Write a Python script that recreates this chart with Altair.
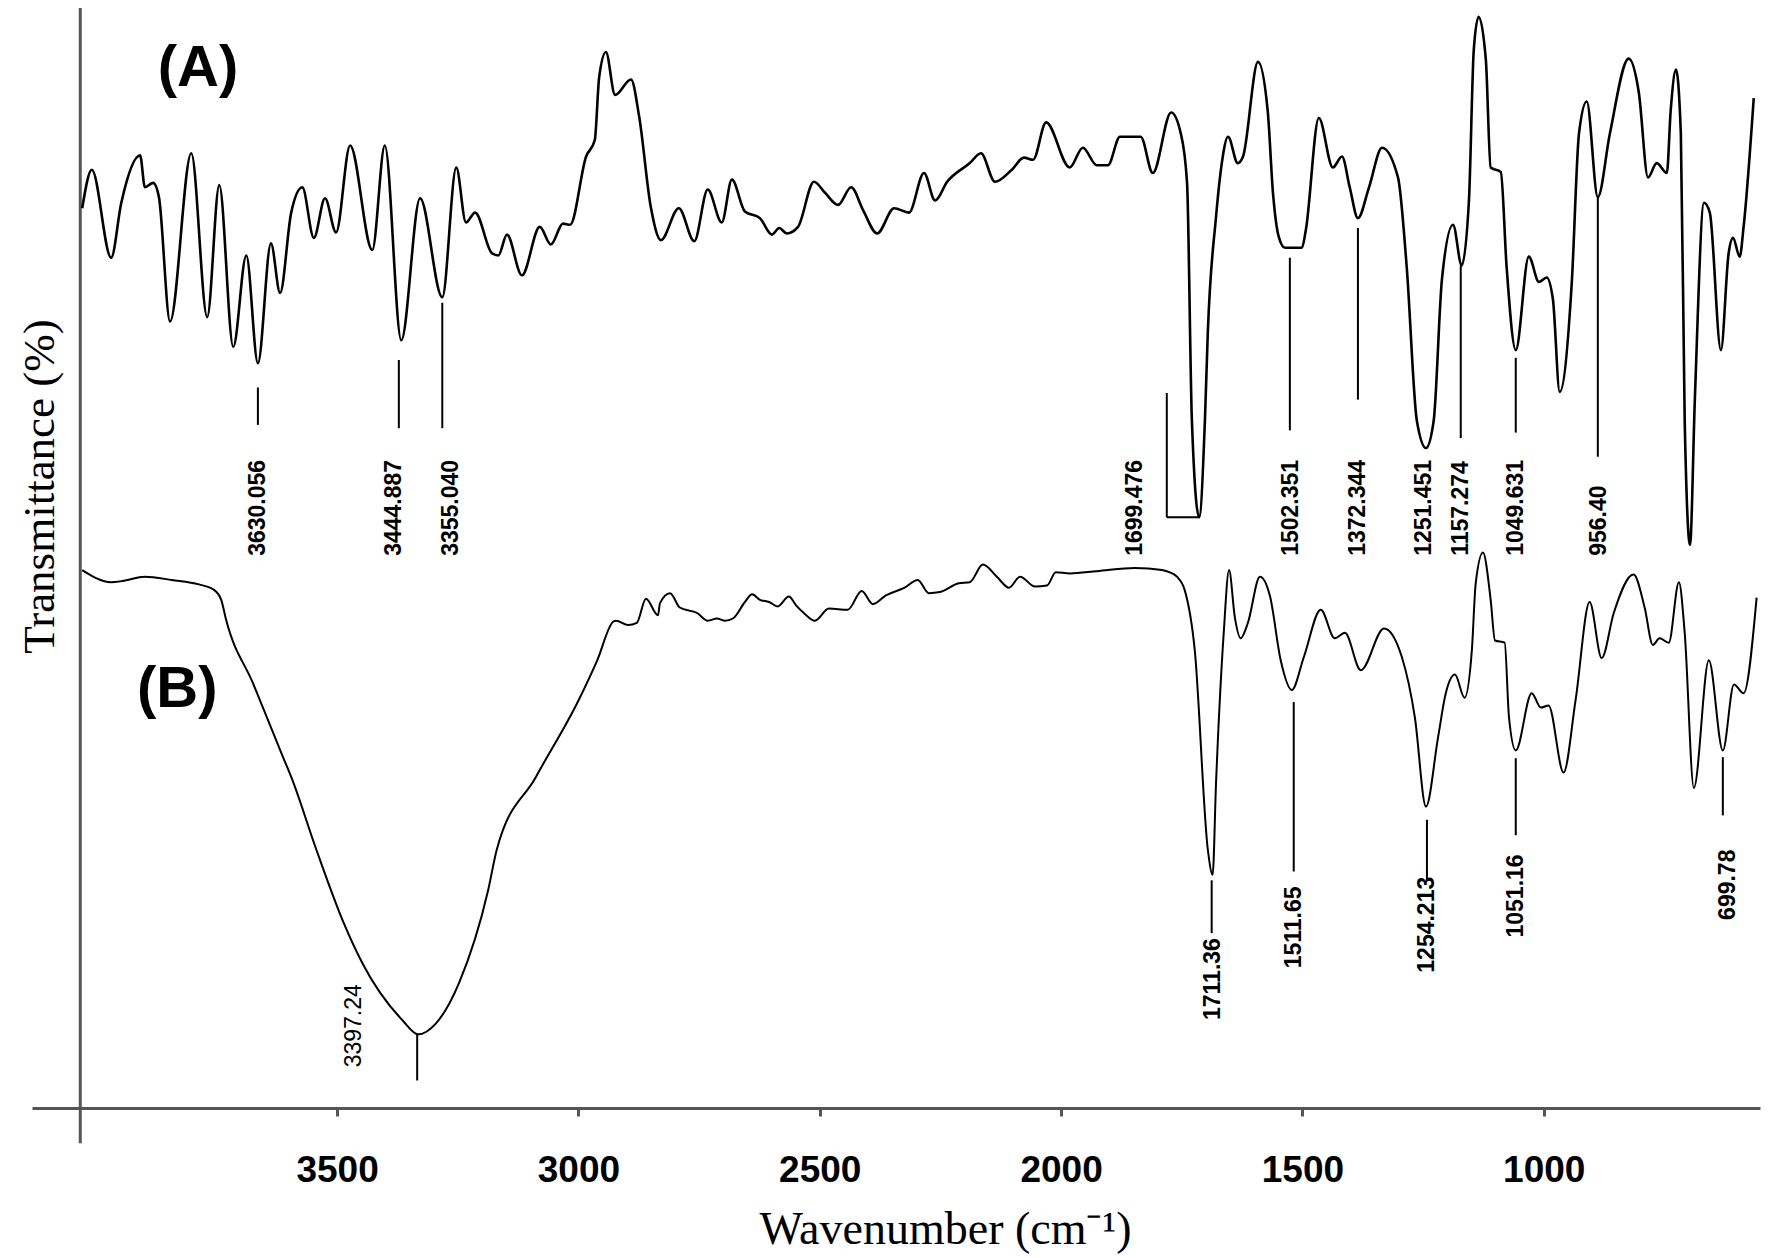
import altair as alt
import pandas as pd

# ---------------- data ----------------
# spectrum (A): (wavenumber cm-1, transmittance %)
a_points = [
    (4028, 81.8), (4008, 85.3), (3968, 77.3), (3947, 82.3), (3908, 86.6), (3898, 83.7),
    (3881, 84.1), (3869, 82.8), (3846, 71.5), (3802, 86.8), (3769, 71.9), (3744, 83.9),
    (3715, 69.2), (3688, 77.5), (3664, 67.7), (3637, 78.6), (3618, 74.1), (3595, 81.4),
    (3572, 83.7), (3548, 79.1), (3525, 82.7), (3502, 79.6), (3473, 87.5), (3427, 78.0),
    (3401, 87.5), (3367, 69.8), (3328, 82.7), (3282, 73.7), (3253, 85.5), (3233, 80.5),
    (3214, 81.4), (3179, 77.7), (3166, 77.5), (3148, 79.4), (3117, 75.7), (3080, 80.1),
    (3057, 78.5), (3032, 80.4), (3017, 80.3), (2984, 86.5), (2966, 88.0), (2957, 93.7),
    (2943, 96.0), (2924, 92.1), (2891, 93.5), (2874, 90.1), (2850, 81.9), (2829, 78.9),
    (2792, 81.8), (2760, 78.8), (2732, 83.5), (2703, 80.5), (2682, 84.4), (2655, 81.5),
    (2624, 80.9), (2599, 79.4), (2584, 80.0), (2568, 79.5), (2545, 80.1), (2512, 84.2),
    (2489, 83.2), (2462, 82.1), (2435, 83.7), (2410, 81.6), (2381, 79.5), (2346, 81.8),
    (2315, 81.4), (2284, 85.0), (2261, 82.5), (2236, 84.2), (2189, 85.9), (2166, 86.8),
    (2137, 84.2), (2102, 85.3), (2077, 86.4), (2058, 86.2), (2031, 89.6), (1982, 85.5),
    (1955, 87.3), (1926, 85.7), (1903, 85.7), (1878, 88.3), (1855, 88.3), (1835, 88.3),
    (1810, 85.0), (1772, 90.5), (1752, 88.6), (1739, 84.1), (1729, 62.5), (1714, 53.7),
    (1702, 62.5), (1696, 70.5), (1679, 81.0), (1667, 85.9), (1654, 88.3), (1634, 85.9),
    (1623, 86.5), (1592, 95.1), (1572, 90.7), (1561, 83.2), (1549, 79.2), (1536, 78.2),
    (1501, 78.2), (1493, 79.8), (1466, 90.0), (1437, 85.5), (1418, 86.5), (1402, 83.7),
    (1385, 80.9), (1362, 83.7), (1335, 87.3), (1302, 84.6), (1284, 76.5), (1263, 62.5),
    (1244, 60.0), (1228, 62.5), (1211, 75.3), (1188, 80.3), (1170, 76.6), (1155, 82.5),
    (1145, 96.2), (1135, 99.2), (1120, 95.3), (1110, 85.5), (1089, 85.1), (1077, 76.5),
    (1058, 68.9), (1031, 77.4), (1010, 75.1), (994, 75.5), (981, 73.5), (967, 65.1),
    (942, 75.0), (927, 88.6), (911, 91.5), (888, 82.8), (863, 88.6), (824, 95.4),
    (803, 92.3), (784, 84.6), (766, 85.9), (745, 85.0), (737, 90.7), (726, 94.4),
    (716, 88.6), (708, 62.5), (697, 51.2), (687, 64.4), (668, 82.3), (656, 81.4),
    (633, 68.9), (617, 77.7), (608, 79.1), (594, 77.4), (586, 80.1), (565, 91.8),
]

# spectrum (B)
b_points = [
    (4028, 48.9), (3968, 47.8), (3945, 47.9), (3898, 48.3), (3842, 48.0), (3786, 47.6),
    (3755, 47.1), (3740, 46.2), (3730, 44.4), (3674, 38.6), (3612, 31.9), (3595, 30.1),
    (3543, 23.5), (3486, 16.8), (3448, 13.2), (3365, 8.0), (3332, 6.7), (3295, 7.7),
    (3247, 11.4), (3187, 19.8), (3169, 23.5), (3088, 30.1), (2997, 37.3), (2961, 40.7),
    (2928, 44.2), (2922, 44.3), (2897, 43.9), (2879, 44.1), (2860, 46.3), (2835, 44.8),
    (2831, 45.9), (2810, 46.8), (2790, 45.5), (2754, 45.0), (2732, 44.3), (2713, 44.5),
    (2696, 44.3), (2680, 44.5), (2655, 46.0), (2640, 46.7), (2624, 46.2), (2605, 46.0),
    (2587, 45.6), (2564, 46.5), (2549, 45.7), (2533, 45.0), (2510, 44.3), (2481, 45.4),
    (2442, 45.3), (2413, 47.0), (2390, 45.8), (2363, 46.6), (2324, 47.3), (2297, 48.0),
    (2274, 46.8), (2251, 46.9), (2212, 47.7), (2189, 47.8), (2162, 49.4), (2133, 48.3),
    (2108, 47.3), (2085, 48.3), (2054, 47.4), (2029, 47.5), (2011, 48.7), (1982, 48.6),
    (1926, 48.8), (1847, 49.1), (1791, 48.9), (1775, 48.7), (1760, 48.3), (1744, 47.1),
    (1723, 41.6), (1696, 23.5), (1686, 21.2), (1679, 29.5), (1663, 43.2), (1652, 48.9),
    (1640, 44.6), (1628, 42.7), (1613, 44.1), (1588, 48.3), (1567, 46.5), (1545, 40.7),
    (1522, 38.0), (1497, 41.0), (1462, 45.3), (1433, 42.7), (1412, 43.2), (1379, 39.8),
    (1331, 43.6), (1294, 41.0), (1267, 35.5), (1244, 27.4), (1219, 33.7), (1203, 37.7),
    (1184, 39.4), (1164, 37.3), (1149, 41.6), (1141, 47.7), (1126, 50.5), (1110, 46.2),
    (1101, 42.5), (1081, 42.3), (1072, 35.5), (1058, 32.5), (1025, 37.7), (1006, 36.4),
    (990, 36.6), (959, 30.5), (934, 37.1), (905, 46.0), (880, 40.9), (855, 45.0),
    (814, 48.5), (791, 45.5), (774, 42.1), (760, 42.7), (741, 42.3), (720, 47.8),
    (708, 43.2), (689, 29.1), (658, 40.7), (629, 32.5), (606, 38.5), (586, 37.7),
    (559, 46.4),
]

# peak labels of (A): text, label position (wavenumber), label foot (transmittance)
a_label_text = ["3630.056", "3444.887", "3355.040", "1699.476", "1502.351",
                "1372.344", "1251.451", "1157.274", "1049.631", "956.40"]
a_label_wn = [3664, 3382, 3264, 1847, 1524, 1385, 1248, 1172, 1058, 886]
a_label_foot = [50.2] * 10

# marker lines of (A): wavenumber, top, bottom
a_mark_wn = [3664, 3372, 3282, 1781, 1526, 1385, 1172, 1058, 888]
a_mark_top = [65.5, 68.0, 73.2, 65.0, 77.3, 80.0, 76.6, 68.2, 82.8]
a_mark_bottom = [62.1, 61.8, 61.8, 53.7, 61.6, 64.4, 60.9, 61.4, 59.2]
# bracket foot for 1699.476
bracket_wn = [1781, 1714]
bracket_t = 53.7

# peak labels of (B)
b_label_text = ["1711.36", "1511.65", "1254.213", "1051.16", "699.78"]
b_label_wn = [1686, 1518, 1242, 1058, 619]
b_label_foot = [8.0, 12.7, 12.3, 15.5, 17.1]
b_mark_wn = [3334, 1688, 1518, 1242, 1058, 629]
b_mark_top = [6.7, 20.7, 36.9, 26.2, 31.8, 31.9]
b_mark_bottom = [2.5, 15.9, 21.5, 20.7, 24.8, 26.6]
b_broad_text = ["3397.24"]
b_broad_wn = [3465]
b_broad_foot = [3.7]

panel_text = ["(A)", "(B)"]
panel_wn = [3788, 3831]
panel_t = [94.5, 38.0]

tick_values = [3500, 3000, 2500, 2000, 1500, 1000]
y_axis_wn = 4032

# ---------------- chart ----------------
W, H = 1728, 1100
xs = alt.Scale(domain=[552, 4132], reverse=True, nice=False, zero=False)
ys = alt.Scale(domain=[0, 100], nice=False, zero=False)

x_axis = alt.Axis(
    values=tick_values, grid=False, format="d",
    labelFont="Liberation Sans", labelFontSize=37, labelFontWeight="bold",
    labelColor="black", labelPadding=36, tickSize=8, tickWidth=3, tickColor="#555",
    domainColor="#555", domainWidth=3,
    title="Wavenumber (cm⁻¹)", titleFont="Liberation Serif", titleFontSize=46,
    titleFontWeight="normal", titleColor="black", titleX=913, titleY=135,
    titleBaseline="alphabetic", titleAlign="center",
)
y_axis = alt.Axis(
    labels=False, ticks=False, domain=False, grid=False,
    title="Transmittance (%)", titleFont="Liberation Serif", titleFontSize=45,
    titleFontWeight="normal", titleColor="black", titleX=21, titleY=478,
    titleAngle=270, titleBaseline="alphabetic", titleAlign="center",
)


def X(field="wn"):
    return alt.X(f"{field}:Q", scale=xs, axis=x_axis)


def Y(field="t"):
    return alt.Y(f"{field}:Q", scale=ys, axis=y_axis)


df_a = pd.DataFrame(a_points, columns=["wn", "t"])
df_b = pd.DataFrame(b_points, columns=["wn", "t"])

line_a = alt.Chart(df_a).mark_line(color="black", strokeWidth=2.6, interpolate="monotone").encode(
    x=X(), y=Y(), order="wn:Q")
line_b = alt.Chart(df_b).mark_line(color="black", strokeWidth=2.0, interpolate="monotone").encode(
    x=X(), y=Y(), order="wn:Q")

df_marks = pd.DataFrame({
    "wn": a_mark_wn + b_mark_wn,
    "t": a_mark_top + b_mark_top,
    "t2": a_mark_bottom + b_mark_bottom,
})
marks = alt.Chart(df_marks).mark_rule(color="black", strokeWidth=2).encode(
    x=X(), y=Y(), y2="t2:Q")

df_bracket = pd.DataFrame({"wn": [bracket_wn[0]], "wn2": [bracket_wn[1]], "t": [bracket_t]})
bracket = alt.Chart(df_bracket).mark_rule(color="black", strokeWidth=2).encode(
    x=X(), x2="wn2:Q", y=Y())

df_yaxis = pd.DataFrame({"wn": [y_axis_wn], "t": [100.0], "t2": [-3.2]})
yaxis_line = alt.Chart(df_yaxis).mark_rule(color="#555", strokeWidth=3).encode(
    x=X(), y=Y(), y2="t2:Q")

df_la = pd.DataFrame({"wn": a_label_wn, "t": a_label_foot, "label": a_label_text})
labels_a = alt.Chart(df_la).mark_text(
    angle=270, align="left", baseline="middle", font="Liberation Sans",
    fontSize=23, fontWeight="bold", color="black").encode(x=X(), y=Y(), text="label:N")

df_lb = pd.DataFrame({"wn": b_label_wn, "t": b_label_foot, "label": b_label_text})
labels_b = alt.Chart(df_lb).mark_text(
    angle=270, align="left", baseline="middle", font="Liberation Sans",
    fontSize=23, fontWeight="bold", color="black").encode(x=X(), y=Y(), text="label:N")

df_lbb = pd.DataFrame({"wn": b_broad_wn, "t": b_broad_foot, "label": b_broad_text})
labels_bb = alt.Chart(df_lbb).mark_text(
    angle=270, align="left", baseline="middle", font="Liberation Sans",
    fontSize=23, fontWeight="normal", color="black").encode(x=X(), y=Y(), text="label:N")

df_panel = pd.DataFrame({"wn": panel_wn, "t": panel_t, "label": panel_text})
panels = alt.Chart(df_panel).mark_text(
    align="center", baseline="middle", font="Liberation Sans",
    fontSize=58, fontWeight="bold", color="black").encode(x=X(), y=Y(), text="label:N")

chart = alt.layer(
    yaxis_line, line_a, line_b, marks, bracket, labels_a, labels_b, labels_bb, panels
).properties(
    width=W, height=H,
    autosize=alt.AutoSizeParams(type="none"),
    padding={"left": 24, "top": 0, "right": 2, "bottom": 147},
    background="white",
).configure_view(stroke=None)

chart.save("out.html", embed_options={"renderer": "svg", "actions": False})
